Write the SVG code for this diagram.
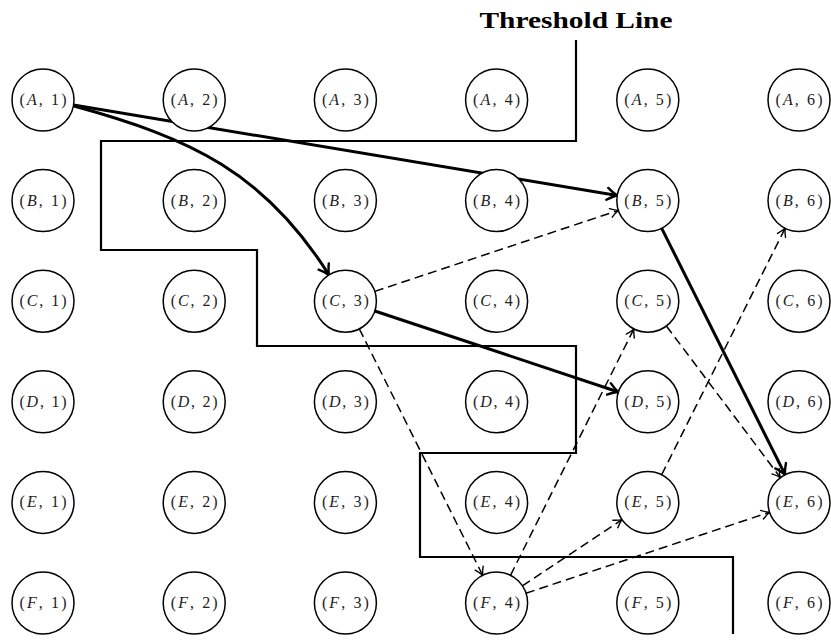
<svg xmlns="http://www.w3.org/2000/svg" width="831" height="642" viewBox="0 0 831 642">
<defs>
<style>
.node circle{fill:#fff;stroke:#000;stroke-width:1.5}
.node text{font-family:"Liberation Serif","DejaVu Serif",serif;font-size:16px;fill:#222;text-anchor:middle}
.node text tspan.v{font-style:italic}
.thick{fill:none;stroke:#000;stroke-width:3}
.dash{fill:none;stroke:#000;stroke-width:1.5;stroke-dasharray:9 5}
.thresh{fill:none;stroke:#000;stroke-width:2.2;stroke-linejoin:miter}
.title{font-family:"Liberation Serif","DejaVu Serif",serif;font-weight:bold;font-size:24px;text-anchor:middle}
</style>
<marker id="ah" markerUnits="userSpaceOnUse" viewBox="-12 -8 14 16" markerWidth="14" markerHeight="16" refX="0" refY="0" orient="auto">
<path d="M-10,-6 Q-4,-1.5 0,0 Q-4,1.5 -10,6" fill="none" stroke="#000" stroke-width="2.4" stroke-linecap="round"/>
</marker>
<marker id="ahs" markerUnits="userSpaceOnUse" viewBox="-10 -6 12 12" markerWidth="12" markerHeight="12" refX="0" refY="0" orient="auto">
<path d="M-8,-4.5 Q-3,-1 0,0 Q-3,1 -8,4.5" fill="none" stroke="#000" stroke-width="1.4" stroke-linecap="round"/>
</marker>
</defs>
<rect width="831" height="642" fill="#fff"/>

<g id="threshold">
<polyline class="thresh" points="576,40 576,141 101,141 101,250 257,250 257,346 576,346 576,453 420,453 420,557 733,557 733,634"/>
<text class="title" x="576" y="28" textLength="193" lengthAdjust="spacingAndGlyphs">Threshold Line</text>
</g>

<g id="connectors">
<path class="thick" d="M74,106 C191,138 265,173 329,275" marker-end="url(#ah)"/>
<line class="thick" x1="73.6" y1="105.1" x2="617.2" y2="195.5" marker-end="url(#ah)"/>
<line class="thick" x1="661.7" y1="228.3" x2="785.1" y2="474.7" marker-end="url(#ah)"/>
<line class="thick" x1="374.8" y1="311.0" x2="618.4" y2="392.0" marker-end="url(#ah)"/>
<line class="dash" x1="374.8" y1="291.4" x2="618.4" y2="210.4" marker-end="url(#ahs)"/>
<line class="dash" x1="359.3" y1="328.9" x2="482.7" y2="575.3" marker-end="url(#ahs)"/>
<line class="dash" x1="510.5" y1="575.3" x2="633.9" y2="328.9" marker-end="url(#ahs)"/>
<line class="dash" x1="522.4" y1="585.8" x2="622" y2="519.6" marker-end="url(#ahs)"/>
<line class="dash" x1="526" y1="593.2" x2="769.6" y2="512.2" marker-end="url(#ahs)"/>
<line class="dash" x1="661.7" y1="474.7" x2="785.1" y2="228.3" marker-end="url(#ahs)"/>
<line class="dash" x1="666.4" y1="326" x2="780.4" y2="477.6" marker-end="url(#ahs)"/>
</g>

<g id="A1" class="node"><circle cx="43" cy="100" r="31"/><text x="43" y="105" textLength="47" lengthAdjust="spacing">(<tspan class="v">A</tspan>, 1)</text></g>
<g id="A2" class="node"><circle cx="194.2" cy="100" r="31"/><text x="194.2" y="105" textLength="47" lengthAdjust="spacing">(<tspan class="v">A</tspan>, 2)</text></g>
<g id="A3" class="node"><circle cx="345.4" cy="100" r="31"/><text x="345.4" y="105" textLength="47" lengthAdjust="spacing">(<tspan class="v">A</tspan>, 3)</text></g>
<g id="A4" class="node"><circle cx="496.6" cy="100" r="31"/><text x="496.6" y="105" textLength="47" lengthAdjust="spacing">(<tspan class="v">A</tspan>, 4)</text></g>
<g id="A5" class="node"><circle cx="647.8" cy="100" r="31"/><text x="647.8" y="105" textLength="47" lengthAdjust="spacing">(<tspan class="v">A</tspan>, 5)</text></g>
<g id="A6" class="node"><circle cx="799" cy="100" r="31"/><text x="799" y="105" textLength="47" lengthAdjust="spacing">(<tspan class="v">A</tspan>, 6)</text></g>

<g id="B1" class="node"><circle cx="43" cy="200.6" r="31"/><text x="43" y="205.6" textLength="47" lengthAdjust="spacing">(<tspan class="v">B</tspan>, 1)</text></g>
<g id="B2" class="node"><circle cx="194.2" cy="200.6" r="31"/><text x="194.2" y="205.6" textLength="47" lengthAdjust="spacing">(<tspan class="v">B</tspan>, 2)</text></g>
<g id="B3" class="node"><circle cx="345.4" cy="200.6" r="31"/><text x="345.4" y="205.6" textLength="47" lengthAdjust="spacing">(<tspan class="v">B</tspan>, 3)</text></g>
<g id="B4" class="node"><circle cx="496.6" cy="200.6" r="31"/><text x="496.6" y="205.6" textLength="47" lengthAdjust="spacing">(<tspan class="v">B</tspan>, 4)</text></g>
<g id="B5" class="node"><circle cx="647.8" cy="200.6" r="31"/><text x="647.8" y="205.6" textLength="47" lengthAdjust="spacing">(<tspan class="v">B</tspan>, 5)</text></g>
<g id="B6" class="node"><circle cx="799" cy="200.6" r="31"/><text x="799" y="205.6" textLength="47" lengthAdjust="spacing">(<tspan class="v">B</tspan>, 6)</text></g>

<g id="C1" class="node"><circle cx="43" cy="301.2" r="31"/><text x="43" y="306.2" textLength="47" lengthAdjust="spacing">(<tspan class="v">C</tspan>, 1)</text></g>
<g id="C2" class="node"><circle cx="194.2" cy="301.2" r="31"/><text x="194.2" y="306.2" textLength="47" lengthAdjust="spacing">(<tspan class="v">C</tspan>, 2)</text></g>
<g id="C3" class="node"><circle cx="345.4" cy="301.2" r="31"/><text x="345.4" y="306.2" textLength="47" lengthAdjust="spacing">(<tspan class="v">C</tspan>, 3)</text></g>
<g id="C4" class="node"><circle cx="496.6" cy="301.2" r="31"/><text x="496.6" y="306.2" textLength="47" lengthAdjust="spacing">(<tspan class="v">C</tspan>, 4)</text></g>
<g id="C5" class="node"><circle cx="647.8" cy="301.2" r="31"/><text x="647.8" y="306.2" textLength="47" lengthAdjust="spacing">(<tspan class="v">C</tspan>, 5)</text></g>
<g id="C6" class="node"><circle cx="799" cy="301.2" r="31"/><text x="799" y="306.2" textLength="47" lengthAdjust="spacing">(<tspan class="v">C</tspan>, 6)</text></g>

<g id="D1" class="node"><circle cx="43" cy="401.8" r="31"/><text x="43" y="406.8" textLength="47" lengthAdjust="spacing">(<tspan class="v">D</tspan>, 1)</text></g>
<g id="D2" class="node"><circle cx="194.2" cy="401.8" r="31"/><text x="194.2" y="406.8" textLength="47" lengthAdjust="spacing">(<tspan class="v">D</tspan>, 2)</text></g>
<g id="D3" class="node"><circle cx="345.4" cy="401.8" r="31"/><text x="345.4" y="406.8" textLength="47" lengthAdjust="spacing">(<tspan class="v">D</tspan>, 3)</text></g>
<g id="D4" class="node"><circle cx="496.6" cy="401.8" r="31"/><text x="496.6" y="406.8" textLength="47" lengthAdjust="spacing">(<tspan class="v">D</tspan>, 4)</text></g>
<g id="D5" class="node"><circle cx="647.8" cy="401.8" r="31"/><text x="647.8" y="406.8" textLength="47" lengthAdjust="spacing">(<tspan class="v">D</tspan>, 5)</text></g>
<g id="D6" class="node"><circle cx="799" cy="401.8" r="31"/><text x="799" y="406.8" textLength="47" lengthAdjust="spacing">(<tspan class="v">D</tspan>, 6)</text></g>

<g id="E1" class="node"><circle cx="43" cy="502.4" r="31"/><text x="43" y="507.4" textLength="47" lengthAdjust="spacing">(<tspan class="v">E</tspan>, 1)</text></g>
<g id="E2" class="node"><circle cx="194.2" cy="502.4" r="31"/><text x="194.2" y="507.4" textLength="47" lengthAdjust="spacing">(<tspan class="v">E</tspan>, 2)</text></g>
<g id="E3" class="node"><circle cx="345.4" cy="502.4" r="31"/><text x="345.4" y="507.4" textLength="47" lengthAdjust="spacing">(<tspan class="v">E</tspan>, 3)</text></g>
<g id="E4" class="node"><circle cx="496.6" cy="502.4" r="31"/><text x="496.6" y="507.4" textLength="47" lengthAdjust="spacing">(<tspan class="v">E</tspan>, 4)</text></g>
<g id="E5" class="node"><circle cx="647.8" cy="502.4" r="31"/><text x="647.8" y="507.4" textLength="47" lengthAdjust="spacing">(<tspan class="v">E</tspan>, 5)</text></g>
<g id="E6" class="node"><circle cx="799" cy="502.4" r="31"/><text x="799" y="507.4" textLength="47" lengthAdjust="spacing">(<tspan class="v">E</tspan>, 6)</text></g>

<g id="F1" class="node"><circle cx="43" cy="603" r="31"/><text x="43" y="608" textLength="47" lengthAdjust="spacing">(<tspan class="v">F</tspan>, 1)</text></g>
<g id="F2" class="node"><circle cx="194.2" cy="603" r="31"/><text x="194.2" y="608" textLength="47" lengthAdjust="spacing">(<tspan class="v">F</tspan>, 2)</text></g>
<g id="F3" class="node"><circle cx="345.4" cy="603" r="31"/><text x="345.4" y="608" textLength="47" lengthAdjust="spacing">(<tspan class="v">F</tspan>, 3)</text></g>
<g id="F4" class="node"><circle cx="496.6" cy="603" r="31"/><text x="496.6" y="608" textLength="47" lengthAdjust="spacing">(<tspan class="v">F</tspan>, 4)</text></g>
<g id="F5" class="node"><circle cx="647.8" cy="603" r="31"/><text x="647.8" y="608" textLength="47" lengthAdjust="spacing">(<tspan class="v">F</tspan>, 5)</text></g>
<g id="F6" class="node"><circle cx="799" cy="603" r="31"/><text x="799" y="608" textLength="47" lengthAdjust="spacing">(<tspan class="v">F</tspan>, 6)</text></g>
</svg>
